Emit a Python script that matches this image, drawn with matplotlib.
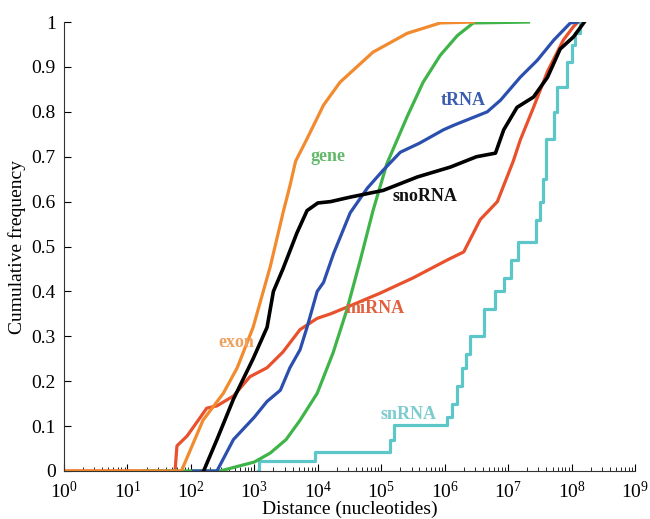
import numpy as np
import matplotlib
matplotlib.use("Agg")
from matplotlib import pyplot as plt
from matplotlib.ticker import LogLocator, NullFormatter

plt.rcParams["font.family"] = ["Liberation Serif", "DejaVu Serif"]
plt.rcParams["mathtext.fontset"] = "custom"
plt.rcParams["mathtext.rm"] = "Liberation Serif"
plt.rcParams["mathtext.it"] = "Liberation Serif:italic"
plt.rcParams["mathtext.bf"] = "Liberation Serif:bold"

# Curves: log10(distance) and cumulative frequency
exon_log = [0, 1.85, 1.88, 2.19, 2.51, 2.73, 2.98, 3.25, 3.46, 3.56, 3.65, 3.83, 4.09, 4.35,
            4.87, 5.41, 5.93, 6.45]
exon_freq = [0, 0, 0.01, 0.113, 0.173, 0.23, 0.32, 0.455, 0.58, 0.635, 0.69, 0.74, 0.815, 0.866,
             0.933, 0.975, 0.998, 1.0]

gene_log = [1.25, 2.46, 3.0, 3.25, 3.5, 3.72, 3.99, 4.24, 4.46, 4.67, 4.87, 5.09, 5.41, 5.66,
            5.93, 6.2, 6.45, 7.32]
gene_freq = [0, 0, 0.02, 0.04, 0.07, 0.113, 0.173, 0.263, 0.36, 0.47, 0.58, 0.685, 0.79, 0.866,
             0.926, 0.97, 0.998, 1.0]

trna_log = [2.04, 2.41, 2.67, 3.0, 3.2, 3.41, 3.56, 3.72, 3.83, 3.99, 4.09, 4.25, 4.51, 4.78,
            5.03, 5.3, 5.6, 5.98, 6.14, 6.67, 6.88, 7.19, 7.46, 7.72, 7.98, 8.09]
trna_freq = [0, 0, 0.07, 0.12, 0.155, 0.18, 0.23, 0.27, 0.32, 0.40, 0.42, 0.485, 0.575, 0.63,
             0.67, 0.71, 0.73, 0.76, 0.77, 0.80, 0.826, 0.877, 0.915, 0.96, 0.998, 1.0]

snorna_log = [2.2, 2.41, 2.67, 2.98, 3.2, 3.3, 3.45, 3.56, 3.67, 3.83, 4.0, 4.2, 4.51, 5.03,
              5.57, 6.09, 6.5, 6.8, 6.93, 7.14, 7.4, 7.62, 7.82, 8.03, 8.2]
snorna_freq = [0, 0.07, 0.16, 0.25, 0.32, 0.40, 0.45, 0.49, 0.53, 0.58, 0.597, 0.60, 0.61, 0.625,
               0.655, 0.677, 0.70, 0.708, 0.76, 0.81, 0.833, 0.877, 0.94, 0.967, 1.0]

mirna_log = [0, 1.75, 1.78, 1.94, 2.15, 2.25, 2.41, 2.67, 2.93, 3.2, 3.45, 3.72, 3.99, 4.2, 4.46,
             4.98, 5.5, 6.04, 6.3, 6.56, 6.83, 7.08, 7.19, 7.4, 7.62, 7.87, 8.03, 8.1]
mirna_freq = [0, 0, 0.056, 0.078, 0.12, 0.14, 0.145, 0.167, 0.21, 0.23, 0.265, 0.315, 0.34, 0.35,
              0.365, 0.396, 0.43, 0.47, 0.488, 0.56, 0.60, 0.69, 0.737, 0.81, 0.89, 0.96, 0.99, 1.0]

snrna_log = [3.05, 3.07, 3.96, 5.13, 5.2, 6.04, 6.12, 6.2, 6.27, 6.33, 6.4, 6.62, 6.8, 6.93,
             7.05, 7.15, 7.44, 7.5, 7.55, 7.6, 7.72, 7.77, 7.92, 8.0, 8.05, 8.14]
snrna_freq = [0, 0.022, 0.042, 0.07, 0.102, 0.12, 0.15, 0.19, 0.23, 0.26, 0.30, 0.36, 0.40, 0.43,
              0.47, 0.51, 0.56, 0.60, 0.65, 0.74, 0.80, 0.855, 0.91, 0.95, 0.975, 1.0]

# label name, log10 x, y
labels = [("gene", 4.16, 0.70), ("tRNA", 6.29, 0.826), ("snoRNA", 5.69, 0.612),
          ("miRNA", 4.9, 0.361), ("exon", 2.71, 0.287), ("snRNA", 5.43, 0.125)]

colors = {"exon": "#f28a2e", "gene": "#3fb449", "tRNA": "#2b4fae",
          "snoRNA": "#000000", "miRNA": "#e9502c", "snRNA": "#5cc6c9"}
text_colors = {"exon": "#f0a15e", "gene": "#63b96a", "tRNA": "#3a5cb0",
               "snoRNA": "#111111", "miRNA": "#e2603e", "snRNA": "#7ccccd"}

fig = plt.figure(figsize=(6.5, 5.19), dpi=100)
ax = fig.add_axes([0.0985, 0.0925, 0.8785, 0.865])

ax.step(np.power(10.0, snrna_log), snrna_freq, where="post", color=colors["snRNA"], lw=2.3)
ax.plot(np.power(10.0, mirna_log), mirna_freq, color=colors["miRNA"], lw=2.3)
ax.plot(np.power(10.0, gene_log), gene_freq, color=colors["gene"], lw=2.3)
ax.plot(np.power(10.0, exon_log), exon_freq, color=colors["exon"], lw=2.3)
ax.plot(np.power(10.0, trna_log), trna_freq, color=colors["tRNA"], lw=2.3)
ax.plot(np.power(10.0, snorna_log), snorna_freq, color=colors["snoRNA"], lw=2.6)

for name, lx, y in labels:
    ax.text(10 ** lx, y, name, color=text_colors[name], fontsize=13, fontweight="bold",
            ha="center", va="center")

ax.set_xscale("log")
ax.set_xlim(1, 1e9)
ax.set_ylim(0, 1)
ax.set_yticks(np.arange(0, 1.01, 0.1))
ax.set_yticklabels(["0", "0.1", "0.2", "0.3", "0.4", "0.5", "0.6", "0.7", "0.8", "0.9", "1"])
ax.xaxis.set_major_locator(LogLocator(base=10, numticks=12))
ax.xaxis.set_minor_locator(LogLocator(base=10, subs=np.arange(2, 10), numticks=12))
ax.xaxis.set_minor_formatter(NullFormatter())

for side in ["top", "right"]:
    ax.spines[side].set_visible(False)
ax.spines["left"].set_color("#333333")
ax.spines["bottom"].set_color("#333333")
ax.tick_params(axis="y", which="major", direction="in", length=5, labelsize=14, pad=6)
ax.tick_params(axis="x", which="major", direction="in", length=5, labelsize=14, pad=7)
ax.tick_params(axis="x", which="minor", direction="in", length=3)

ax.set_xlabel("Distance (nucleotides)", fontsize=14, labelpad=-1)
ax.set_ylabel("Cumulative frequency", fontsize=14, labelpad=4)

fig.savefig("out.png", dpi=100, facecolor="white")
